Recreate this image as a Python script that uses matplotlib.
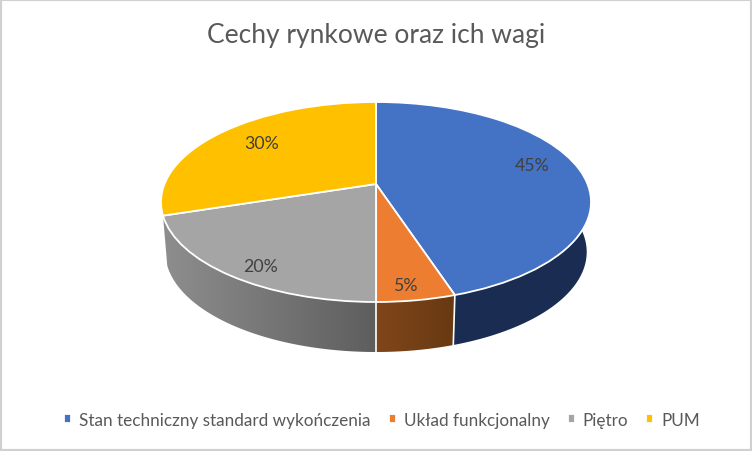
import numpy as np
import matplotlib
matplotlib.use('Agg')
import matplotlib.pyplot as plt
from matplotlib.patches import Polygon, Rectangle
from matplotlib.transforms import Transform

plt.rcParams['font.family'] = ['Lato', 'DejaVu Sans']

title = 'Cechy rynkowe oraz ich wagi'
categories = ['Stan techniczny standard wykończenia', 'Układ funkcjonalny', 'Piętro', 'PUM']
values = [45, 5, 20, 30]
colors = ['#4472C4', '#ED7D31', '#A5A5A5', '#FFC000']

# pixel position of each percent label
label_pos = [(532, 166), (405, 286), (260, 267), (262, 144)]

# side wall colours, left and right end of the gradient (PUM wall is not visible)
wall_cols = [('#1A2C52', '#1A2C52'), ('#80461A', '#683912'), ('#8E8E8E', '#5E5E5E')]

# perspective of the pie top, in pixels
cx, cy = 376, 185
persp = 0.18
ax_up, ax_down = 96.76, 211.5
depth = 50
shrink = 0.98


def project(xy):
    u, v = xy[:, 0], xy[:, 1]
    d = 1 + persp * v
    return np.column_stack([cx + ax_down * u / d, cy - ax_up * v / d])


class PieTilt(Transform):
    input_dims = 2
    output_dims = 2

    def transform_non_affine(self, xy):
        return project(np.asarray(xy, dtype=float))


fig = plt.figure(figsize=(7.52, 4.52), dpi=100, facecolor='white')
ax = fig.add_axes([0, 0, 1, 1])

wedges, _ = ax.pie(values, colors=colors, startangle=90, counterclock=False,
                   wedgeprops={'edgecolor': 'white', 'linewidth': 1.3})
ax.set_aspect('auto')
for w in wedges:
    w.set_transform(PieTilt() + ax.transData)
    w.set_zorder(5)

# side walls, built from the same slice angles
edges = np.cumsum([0] + values) / 100 * 2 * np.pi


def rim(t):
    return project(np.column_stack([np.sin(t), np.cos(t)]))


def lower(pts):
    return np.column_stack([cx + (pts[:, 0] - cx) * shrink, pts[:, 1] + depth])


for i, (c0, c1) in enumerate(wall_cols):
    t = np.linspace(edges[i], edges[i + 1], 120)
    top = rim(t)
    poly = np.vstack([top, lower(top)[::-1]])
    x0, x1 = poly[:, 0].min(), poly[:, 0].max()
    rgb0, rgb1 = matplotlib.colors.to_rgb(c0), matplotlib.colors.to_rgb(c1)
    grad = np.linspace(rgb0, rgb1, 256)[np.newaxis, :, :]
    im = ax.imshow(grad, extent=(x0, x1, poly[:, 1].max(), poly[:, 1].min()),
                   aspect='auto', zorder=2, interpolation='bilinear')
    im.set_clip_path(Polygon(poly, closed=True, transform=ax.transData))

# white seams on the front of the wall
for e in edges[1:3]:
    top = rim(np.array([e]))
    bot = lower(top)
    ax.plot([top[0, 0], bot[0, 0]], [top[0, 1], bot[0, 1]], color='white', lw=1.2, zorder=3)

ax.set_xlim(0, 752)
ax.set_ylim(452, 0)
ax.axis('off')

for v, (x, y) in zip(values, label_pos):
    ax.text(x, y, f'{v}%', ha='center', va='center', fontsize=12.8, color='#404040', zorder=6)

ax.text(376, 35, title, ha='center', va='center', fontsize=19, color='#595959')

fig.legend(wedges, categories, ncol=4, loc='center', bbox_to_anchor=(0.508, 1 - 421 / 452),
           frameon=False, fontsize=12.35, labelcolor='#595959', handlelength=0.42, handleheight=0.42,
           handletextpad=0.45, columnspacing=1.05)

# thin grey frame of the chart area
fig.add_artist(Rectangle((0, 0), 1, 1, transform=fig.transFigure, fill=False,
                         edgecolor='#D0D0D0', linewidth=3))

fig.savefig('out.png', dpi=100, facecolor='white')
